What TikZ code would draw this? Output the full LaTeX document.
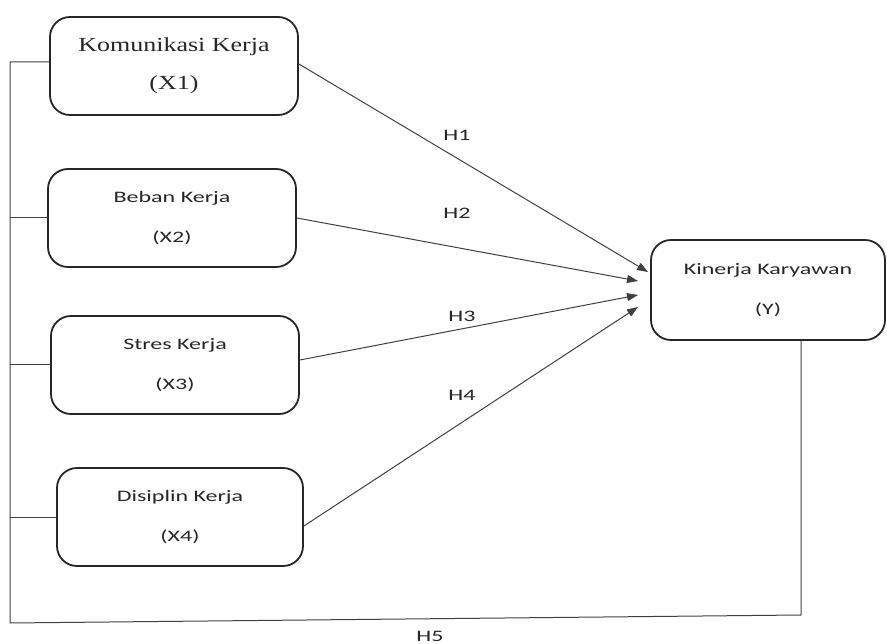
\documentclass[tikz,border=0pt]{standalone}
\usepackage{fontspec}
\setmainfont{Carlito}[FakeStretch=1.5]
\newfontfamily\serifk{Liberation Serif}[FakeStretch=1.3]
\usepackage{tikz}
\usetikzlibrary{arrows.meta,calc,positioning}

\begin{document}
\begin{tikzpicture}[x=1pt,y=-1pt,
  varbox/.style={draw=black!85,line width=1.8pt,rounded corners=20pt,
    minimum width=248pt,minimum height=98pt,align=center,
    font=\fontsize{16}{40}\selectfont,text=black!85},
  hyp/.style={draw=black!75,line width=1pt,-{Triangle[length=11pt,width=8pt]}},
  lab/.style={font=\fontsize{16}{18}\selectfont,text=black!85}]
  \useasboundingbox (0,0) rectangle (887,644);
  % variabel bebas dan terikat
  \node[varbox,font=\serifk\fontsize{20}{38}\selectfont] (X1) at (174,66) {Komunikasi Kerja\\(X1)};
  \node[varbox] (X2) at (172,218) {Beban Kerja\\(X2)};
  \node[varbox] (X3) at (175,365) {Stres Kerja\\(X3)};
  \node[varbox,minimum width=246pt] (X4) at (180,517) {Disiplin Kerja\\(X4)};
  \node[varbox,minimum width=234pt,minimum height=100pt] (Y) at (768,290) {Kinerja Karyawan\\(Y)};
  % ujung panah
  \coordinate (e1) at (648,272);
  \coordinate (e2) at (638,281);
  \coordinate (e3) at (638,295);
  \coordinate (e4) at (638,307);
  \draw[hyp] ([yshift=2pt]X1.east) -- (e1);
  \draw[hyp] (X2.east) -- (e2);
  \draw[hyp] ([yshift=5pt]X3.east) -- (e3);
  \draw[hyp] ([yshift=-9pt]X4.east) -- (e4);
  \node[lab] (h1) at (457,135) {H1};
  \node[lab] (h2) at (457,213) {H2};
  \node[lab] (h3) at (462,316) {H3};
  \node[lab] (h4) at (462,395) {H4};
  % garis simultan H5
  \coordinate (top) at (10,62);
  \coordinate (bl) at (10,623);
  \coordinate (br) at (801,615);
  \draw[draw=black!75,line width=1pt] (X1.west |- top) -- (top) -- (bl) -- (br) -- (br |- Y.south);
  \foreach \v in {X2,X3,X4}
    \draw[draw=black!75,line width=1pt] (\v.west) -- (\v.west -| bl);
  \node[lab] (h5) at (430,636) {H5};
\end{tikzpicture}
\end{document}
